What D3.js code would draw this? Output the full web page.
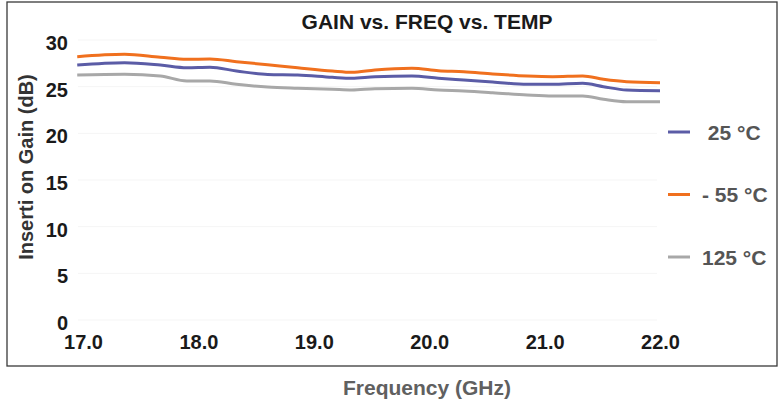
<!DOCTYPE html>
<html>
<head>
<meta charset="utf-8">
<script src="https://cdn.jsdelivr.net/npm/d3@7"></script>
<style>
  body { margin: 0; background: #fff; }
  svg { display: block; font-family: "Liberation Sans", Arial, sans-serif; font-weight: bold; }
</style>
</head>
<body>
<svg width="779" height="404"></svg>
<script>
// frequency points (GHz)
const freq = [16.95, 17.36, 17.67, 17.90, 18.10, 18.33, 18.60, 18.86, 19.16, 19.33, 19.53,
  19.85, 20.08, 20.30, 20.55, 20.85, 21.07, 21.33, 21.51, 21.71, 22.00];

// insertion gain (dB) per temperature
const gain25 = [27.32, 27.57, 27.32, 27.03, 27.08, 26.68, 26.30, 26.25, 26.00, 25.90, 26.07,
  26.14, 25.90, 25.71, 25.50, 25.25, 25.25, 25.36, 25.00, 24.64, 24.57];
const gainM55 = [28.21, 28.47, 28.15, 27.93, 27.96, 27.68, 27.35, 27.03, 26.68, 26.54, 26.79,
  26.97, 26.71, 26.60, 26.36, 26.14, 26.07, 26.14, 25.79, 25.53, 25.43];
const gain125 = [26.25, 26.33, 26.14, 25.61, 25.61, 25.25, 24.96, 24.83, 24.72, 24.64, 24.78,
  24.83, 24.64, 24.54, 24.36, 24.11, 24.00, 24.00, 23.65, 23.39, 23.39];

const seriesNames = [" 25 °C", "- 55 °C", "125 °C"];
const xTicks = [17, 18, 19, 20, 21, 22];
const yTicks = [0, 5, 10, 15, 20, 25, 30];

const series = [
  { name: seriesNames[0], values: gain25, color: "#5b5ca6" },
  { name: seriesNames[1], values: gainM55, color: "#f0701e" },
  { name: seriesNames[2], values: gain125, color: "#a8a8a8" },
];

const svg = d3.select("svg");

const x = d3.scaleLinear().domain([17, 22]).range([83, 660]);
const y = d3.scaleLinear().domain([0, 30]).range([320, 40]);

// outer frame
svg.append("rect")
  .attr("x", 7).attr("y", 2).attr("width", 770).attr("height", 364)
  .attr("fill", "none").attr("stroke", "#3a3a3a").attr("stroke-width", 1.3);

// very faint plot area gridlines
svg.append("g").selectAll("line").data(yTicks).join("line")
  .attr("x1", 78).attr("x2", 657)
  .attr("y1", d => y(d)).attr("y2", d => y(d))
  .attr("stroke", "#f5f5f5");

// title
svg.append("text")
  .attr("x", 427).attr("y", 21)
  .attr("text-anchor", "middle").attr("dominant-baseline", "central")
  .attr("font-size", 21).attr("fill", "#1a1a1a")
  .text("GAIN vs. FREQ vs. TEMP");

// axes
const yAxis = svg.append("g")
  .attr("transform", "translate(68,3)")
  .call(d3.axisLeft(y).tickValues(yTicks).tickSize(0).tickPadding(0));
yAxis.select(".domain").remove();
yAxis.selectAll("text").attr("font-size", 20).attr("fill", "#1a1a1a")
  .attr("font-family", null).attr("font-weight", "bold");

const xAxis = svg.append("g")
  .attr("transform", "translate(0,335)")
  .call(d3.axisBottom(x).tickValues(xTicks).tickFormat(d3.format(".1f")).tickSize(0).tickPadding(0));
xAxis.select(".domain").remove();
xAxis.selectAll("text").attr("font-size", 20).attr("fill", "#1a1a1a")
  .attr("font-family", null).attr("font-weight", "bold");

// axis titles
svg.append("text")
  .attr("transform", "translate(25.5,167) rotate(-90)")
  .attr("text-anchor", "middle").attr("dominant-baseline", "central")
  .attr("font-size", 20).attr("fill", "#333")
  .text("Inserti on Gain (dB)");

svg.append("text")
  .attr("x", 427).attr("y", 387)
  .attr("text-anchor", "middle").attr("dominant-baseline", "central")
  .attr("font-size", 21).attr("fill", "#606060")
  .text("Frequency (GHz)");

// lines
const line = d3.line()
  .x((d, i) => x(freq[i]))
  .y(d => y(d))
  .curve(d3.curveMonotoneX);

svg.append("g").selectAll("path").data(series).join("path")
  .attr("d", d => line(d.values))
  .attr("fill", "none")
  .attr("stroke", d => d.color)
  .attr("stroke-width", 3);

// legend
const legendY = d3.scalePoint().domain(seriesNames).range([132, 257]);
const leg = svg.append("g").selectAll("g").data(series).join("g")
  .attr("transform", d => `translate(0,${legendY(d.name)})`);
leg.append("line")
  .attr("x1", 668).attr("x2", 690)
  .attr("stroke", d => d.color).attr("stroke-width", 3);
leg.append("text")
  .attr("x", 702).attr("dominant-baseline", "central")
  .attr("font-size", 21).attr("fill", "#555")
  .style("white-space", "pre")
  .text(d => d.name);
</script>
</body>
</html>
